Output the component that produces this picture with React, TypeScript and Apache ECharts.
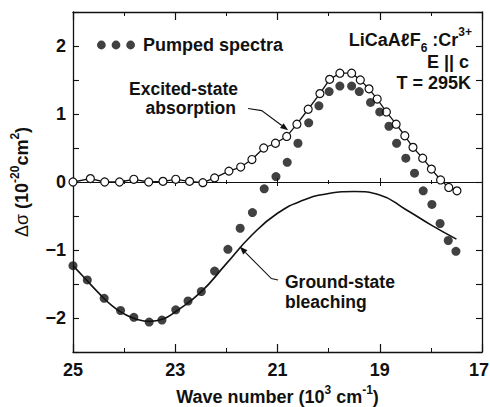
import React, { useEffect, useRef } from 'react';
import * as echarts from 'echarts';

// Excited-state absorption (open circles)
const esaWave = [25.0, 24.66, 24.38, 24.09, 23.81, 23.52, 23.24, 22.99, 22.72, 22.46, 22.23, 21.95, 21.72, 21.5, 21.27, 21.04, 20.82, 20.62, 20.4, 20.17, 19.98, 19.78, 19.55, 19.38, 19.21, 19.05, 18.87, 18.68, 18.51, 18.35, 18.16, 17.99, 17.81, 17.65, 17.49];
const esaValues = [0, 0.05, 0, 0, 0.04, 0, 0.01, 0.04, 0.01, -0.01, 0.06, 0.16, 0.22, 0.33, 0.5, 0.57, 0.67, 0.85, 1.07, 1.3, 1.51, 1.6, 1.6, 1.5, 1.37, 1.22, 1.03, 0.85, 0.68, 0.51, 0.35, 0.19, 0.03, -0.08, -0.13];

// Pumped spectra (filled dots)
const pumpedWave = [25.0, 24.72, 24.39, 24.07, 23.81, 23.51, 23.26, 22.99, 22.75, 22.49, 22.23, 21.97, 21.73, 21.49, 21.26, 21.03, 20.81, 20.6, 20.39, 20.19, 19.99, 19.78, 19.55, 19.4, 19.18, 19.0, 18.82, 18.67, 18.49, 18.32, 18.15, 17.98, 17.82, 17.66, 17.51];
const pumpedValues = [-1.23, -1.44, -1.71, -1.89, -1.99, -2.06, -2.03, -1.88, -1.75, -1.61, -1.31, -0.99, -0.68, -0.45, -0.1, 0.08, 0.29, 0.57, 0.87, 1.12, 1.33, 1.41, 1.41, 1.33, 1.17, 1.03, 0.82, 0.57, 0.35, 0.13, -0.13, -0.33, -0.61, -0.86, -1.02];

// Ground-state bleaching (solid curve)
const gsbWave = [25.0, 24.75, 24.5, 24.25, 24.0, 23.75, 23.5, 23.25, 23.0, 22.5, 22.0, 21.5, 21.0, 20.5, 20.0, 19.5, 19.0, 18.5, 18.0, 17.5];
const gsbValues = [-1.23, -1.43, -1.63, -1.81, -1.94, -2.02, -2.05, -2.02, -1.91, -1.62, -1.2, -0.78, -0.46, -0.27, -0.17, -0.14, -0.19, -0.4, -0.63, -0.84];

// Annotation arrows (data coordinates)
const esaArrow = [[21.575, 1.08], [21.31, 1.05], [20.79, 0.76]];
const gsbArrow = [[20.99, -1.44], [21.12, -1.42], [21.74, -0.95]];

const FONT = '"Liberation Sans", Arial, Helvetica, sans-serif';
const BLACK = '#111';

const dotsIcon =
  'path://M0,4.5a4.5,4.5 0 1,0 9,0a4.5,4.5 0 1,0 -9,0Z M15,4.5a4.5,4.5 0 1,0 9,0a4.5,4.5 0 1,0 -9,0Z M30,4.5a4.5,4.5 0 1,0 9,0a4.5,4.5 0 1,0 -9,0Z';

const supStyle = { fontSize: 12, fontWeight: 'bold', fontFamily: FONT, color: BLACK, verticalAlign: 'top' };
const subStyle = { fontSize: 12, fontWeight: 'bold', fontFamily: FONT, color: BLACK, verticalAlign: 'bottom' };
const greekStyle = { fontSize: 18, fontWeight: 'normal', fontFamily: FONT, color: BLACK };

function zip(a: number[], b: number[]) {
  return a.map((v, i) => [v, b[i]]);
}

export default function App() {
  const ref = useRef<HTMLDivElement>(null);
  useEffect(() => {
    if (!ref.current) return;
    const chart = echarts.init(ref.current, undefined, { renderer: 'svg' });
    const xBase = {
      type: 'value',
      min: 17,
      max: 25,
      interval: 2,
      inverse: true,
      splitLine: { show: false },
    };
    const yBase = {
      type: 'value',
      min: -2.5,
      max: 2.5,
      interval: 0.5,
      splitLine: { show: false },
    };
    const axisLine = { onZero: false, lineStyle: { color: BLACK, width: 1.3 } };
    const option: any = {
      animation: false,
      backgroundColor: '#fff',
      grid: { left: 73, right: 8, top: 12, bottom: 55, containLabel: false, outerBoundsMode: 'none' },
      legend: {
        data: ['Pumped spectra'],
        left: 97,
        top: 36,
        padding: 0,
        icon: dotsIcon,
        itemWidth: 38,
        itemHeight: 9,
        textStyle: { fontSize: 18, fontWeight: 'bold', fontFamily: FONT, color: BLACK, padding: [0, 0, 0, 3] },
      },
      xAxis: [
        {
          ...xBase,
          position: 'bottom',
          axisLine,
          axisTick: { inside: true, length: 8, lineStyle: { color: BLACK, width: 1.2 } },
          minorTick: { show: true, splitNumber: 2, length: 4, lineStyle: { color: BLACK, width: 1 } },
          axisLabel: {
            margin: 9,
            fontSize: 18,
            fontWeight: 'bold',
            fontFamily: FONT,
            color: BLACK,
            formatter: (v: number) => (v === 17 ? '{r|17}' : String(v)),
            rich: { r: { fontSize: 18, fontWeight: 'bold', fontFamily: FONT, color: BLACK, padding: [0, 6, 0, 0] } },
          },
          name: 'Wave number (10{sup|3} cm{sup|-1})',
          nameLocation: 'middle',
          nameGap: 32,
          nameTextStyle: {
            fontSize: 18,
            fontWeight: 'bold',
            fontFamily: FONT,
            color: BLACK,
            lineHeight: 26,
            rich: { sup: supStyle },
          },
        },
        {
          ...xBase,
          position: 'top',
          axisLine,
          axisTick: { inside: true, length: 8, lineStyle: { color: BLACK, width: 1.2 } },
          minorTick: { show: true, splitNumber: 2, length: 4, lineStyle: { color: BLACK, width: 1 } },
          axisLabel: { show: false },
        },
        {
          ...xBase,
          position: 'bottom',
          axisLine: { onZero: true, onZeroAxisIndex: 0, lineStyle: { color: BLACK, width: 1.2 } },
          axisTick: { inside: true, length: 4, lineStyle: { color: BLACK, width: 1 } },
          minorTick: { show: true, splitNumber: 2, length: 2, lineStyle: { color: BLACK, width: 1 } },
          axisLabel: { show: false },
        },
        {
          ...xBase,
          position: 'top',
          axisLine: { onZero: true, onZeroAxisIndex: 0, lineStyle: { color: BLACK, width: 1.2 } },
          axisTick: { inside: true, length: 4, lineStyle: { color: BLACK, width: 1 } },
          minorTick: { show: true, splitNumber: 2, length: 2, lineStyle: { color: BLACK, width: 1 } },
          axisLabel: { show: false },
        },
      ],
      yAxis: [
        {
          ...yBase,
          position: 'left',
          axisLine,
          axisTick: { inside: true, length: 6, lineStyle: { color: BLACK, width: 1.1 } },
          axisLabel: {
            margin: 7,
            fontSize: 18,
            fontWeight: 'bold',
            fontFamily: FONT,
            color: BLACK,
            formatter: (v: number) => (Number.isInteger(v) ? (v < 0 ? '\u2212' + Math.abs(v) : String(v)) : ''),
          },
          name: '{g|\u0394\u03c3} (10{sup|-20}cm{sup|2})',
          nameLocation: 'middle',
          nameGap: 33,
          nameTextStyle: {
            fontSize: 18,
            fontWeight: 'bold',
            fontFamily: FONT,
            color: BLACK,
            lineHeight: 26,
            rich: { sup: supStyle, g: greekStyle },
          },
        },
        {
          ...yBase,
          position: 'right',
          axisLine,
          axisTick: { inside: true, length: 6, lineStyle: { color: BLACK, width: 1.1 } },
          axisLabel: { show: false },
        },
      ],
      series: [
        {
          name: 'Ground-state bleaching',
          type: 'line',
          data: zip(gsbWave, gsbValues),
          smooth: 0.5,
          showSymbol: false,
          symbol: 'none',
          clip: false,
          lineStyle: { color: BLACK, width: 1.6 },
          z: 2,
        },
        {
          name: 'Excited-state absorption',
          type: 'line',
          data: zip(esaWave, esaValues),
          symbol: 'circle',
          symbolSize: 8,
          clip: false,
          lineStyle: { color: BLACK, width: 1.3 },
          itemStyle: { color: '#fff', borderColor: BLACK, borderWidth: 1.2 },
          z: 3,
        },
        {
          name: 'Pumped spectra',
          type: 'scatter',
          data: zip(pumpedWave, pumpedValues),
          symbol: 'circle',
          symbolSize: 9,
          clip: false,
          itemStyle: { color: BLACK },
          z: 4,
        },
      ],
    };
    chart.setOption(option);

    const toPx = (p: number[]) => chart.convertToPixel({ xAxisIndex: 0, yAxisIndex: 0 }, p) as number[];
    const arrow = (pts: number[][], id: string) => {
      const px = pts.map(toPx);
      const tip = px[px.length - 1];
      const prev = px[px.length - 2];
      const dx = tip[0] - prev[0];
      const dy = tip[1] - prev[1];
      const len = Math.hypot(dx, dy) || 1;
      const ux = dx / len;
      const uy = dy / len;
      const hl = 8;
      const hw = 3;
      const bx = tip[0] - ux * hl;
      const by = tip[1] - uy * hl;
      return [
        {
          type: 'polyline',
          id: id + '-line',
          shape: { points: [...px.slice(0, -1), [bx, by]] },
          style: { stroke: BLACK, lineWidth: 1.1, fill: 'none' },
          z: 10,
        },
        {
          type: 'polygon',
          id: id + '-head',
          shape: { points: [tip, [bx - uy * hw, by + ux * hw], [bx + uy * hw, by - ux * hw]] },
          style: { fill: BLACK },
          z: 10,
        },
      ];
    };
    const txt = (id: string, x: number, y: number, text: string, align: string, extra: any = {}) => ({
      type: 'text',
      id,
      x,
      y,
      z: 10,
      style: {
        text,
        fill: BLACK,
        fontSize: 18,
        fontWeight: 'bold',
        fontFamily: FONT,
        align,
        verticalAlign: 'middle',
        ...extra,
      },
    });
    chart.setOption({
      graphic: [
        txt('t1', 238, 89, 'Excited-state', 'right', { fontSize: 17.5 }),
        txt('t2', 236, 107.5, 'absorption', 'right', { fontSize: 17.5 }),
        txt('t3', 285, 282, 'Ground-state', 'left', { fontSize: 17.5 }),
        txt('t4', 285, 301.5, 'bleaching', 'left', { fontSize: 17.5 }),
        txt('t5', 472, 40, 'LiCaA\u2113F{sub|6} :Cr{sup|3+}', 'right', {
          lineHeight: 28,
          rich: { sub: subStyle, sup: supStyle },
        }),
        txt('t6', 469, 62, 'E || c', 'right'),
        txt('t7', 471, 83, 'T = 295K', 'right'),
        ...arrow(esaArrow, 'a1'),
        ...arrow(gsbArrow, 'a2'),
      ],
    });
    return () => chart.dispose();
  }, []);
  return <div ref={ref} style={{ position: 'fixed', left: 0, top: 0, width: 490, height: 407 }} />;
}
